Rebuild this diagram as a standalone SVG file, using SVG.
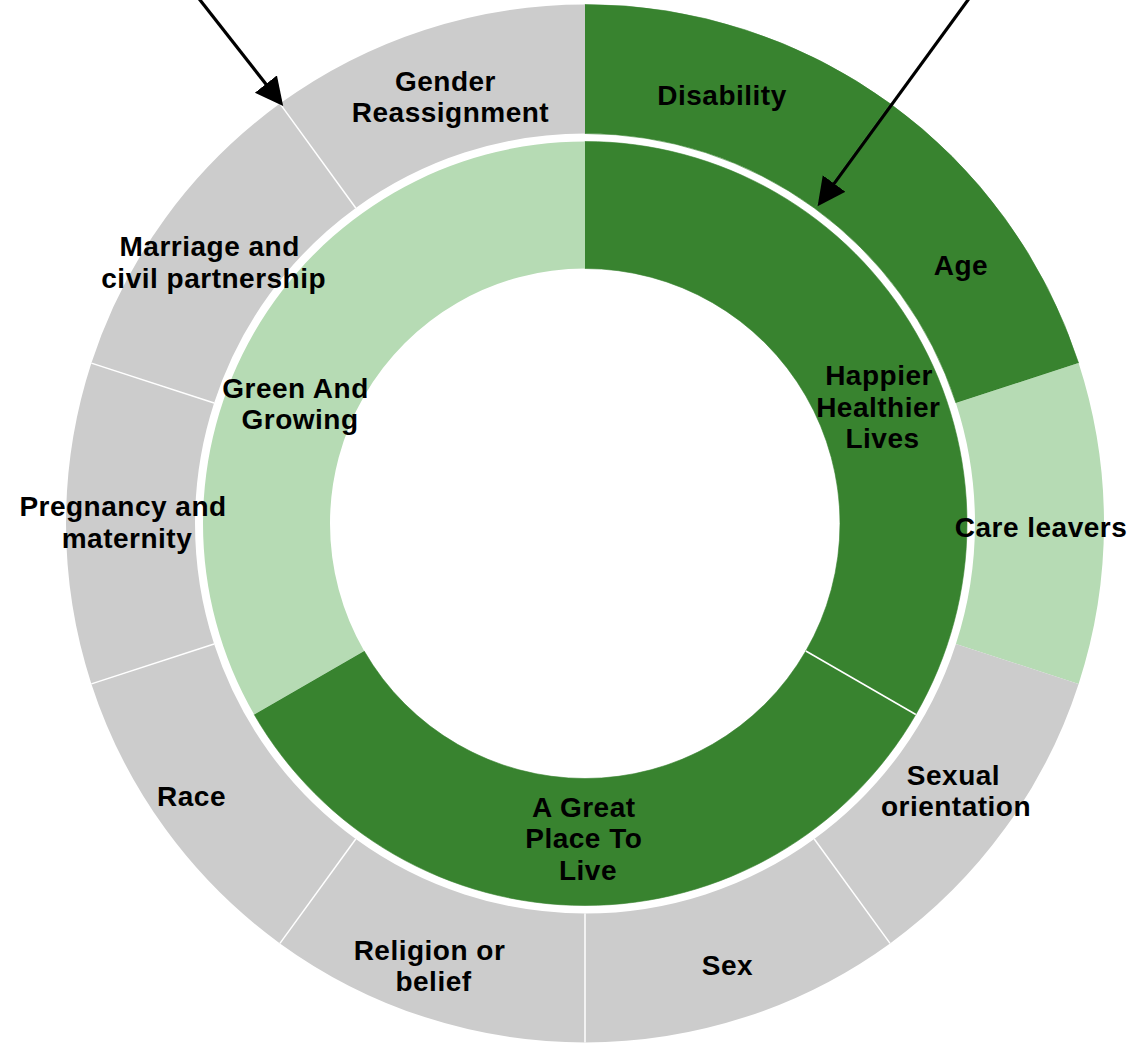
<svg xmlns="http://www.w3.org/2000/svg" width="1131" height="1044" viewBox="0 0 1131 1044">
<style>
.lbl { font-family: "Liberation Sans", Arial, sans-serif; font-weight: bold; font-size: 28px; letter-spacing: 0.5px; fill: #000; text-anchor: middle; }
.dk { fill: #38832f; stroke: #38832f; stroke-width: 0.6; }
.lt { fill: #b6dbb4; }
.gr { fill: #cccccc; }
.sep { stroke: #ffffff; stroke-width: 1.5; fill: none; }
.arrow { stroke: #000; stroke-width: 3.2; fill: none; marker-end: url(#ah); }
</style>
<defs>
<marker id="ah" markerUnits="userSpaceOnUse" markerWidth="32" markerHeight="32" viewBox="0 0 32 32" refX="18" refY="14" orient="auto">
<path d="M0,0 L28,14 L0,28 Z" fill="#000"/>
</marker>
</defs>
<rect width="1131" height="1044" fill="#ffffff"/>

<g id="happier-healthier-lives">
<path class="dk" d="M585,141.5 A382,382 0 0 1 915.82,714.5 L805.84,651 A255,255 0 0 0 585,268.5 Z"/>
<text class="lbl"><tspan x="879" y="385">Happier</tspan><tspan x="878.3" y="416.7">Healthier</tspan><tspan x="882.5" y="448.3">Lives</tspan></text>
</g>
<g id="a-great-place-to-live">
<path class="dk" d="M915.82,714.5 A382,382 0 0 1 254.18,714.5 L364.16,651 A255,255 0 0 0 805.84,651 Z"/>
<text class="lbl"><tspan x="583.8" y="816.7">A Great</tspan><tspan x="583.8" y="848.3">Place To</tspan><tspan x="588" y="880">Live</tspan></text>
</g>
<g id="green-and-growing">
<path class="lt" d="M254.18,714.5 A382,382 0 0 1 585,141.5 L585,268.5 A255,255 0 0 0 364.16,651 Z"/>
<text class="lbl"><tspan x="295.5" y="397.7">Green And</tspan><tspan x="300" y="429">Growing</tspan></text>
</g>

<g id="disability">
<path class="dk" d="M585,4.5 A519,519 0 0 1 890.06,103.62 L814.24,207.98 A390,390 0 0 0 585,133.5 Z"/>
<text class="lbl" x="722" y="105">Disability</text>
</g>
<g id="age">
<path class="dk" d="M890.06,103.62 A519,519 0 0 1 1078.6,363.12 L955.91,402.98 A390,390 0 0 0 814.24,207.98 Z"/>
<text class="lbl" x="961" y="275">Age</text>
</g>
<g id="care-leavers">
<path class="lt" d="M1078.6,363.12 A519,519 0 0 1 1078.6,683.88 L955.91,644.02 A390,390 0 0 0 955.91,402.98 Z"/>
<text class="lbl" x="1041" y="537">Care leavers</text>
</g>
<g id="sexual-orientation">
<path class="gr" d="M1078.6,683.88 A519,519 0 0 1 890.06,943.38 L814.24,839.02 A390,390 0 0 0 955.91,644.02 Z"/>
<text class="lbl"><tspan x="953.5" y="784.5">Sexual</tspan><tspan x="956" y="816">orientation</tspan></text>
</g>
<g id="sex">
<path class="gr" d="M890.06,943.38 A519,519 0 0 1 585,1042.5 L585,913.5 A390,390 0 0 0 814.24,839.02 Z"/>
<text class="lbl" x="727.5" y="974.5">Sex</text>
</g>
<g id="religion-or-belief">
<path class="gr" d="M585,1042.5 A519,519 0 0 1 279.94,943.38 L355.76,839.02 A390,390 0 0 0 585,913.5 Z"/>
<text class="lbl"><tspan x="429.5" y="959.5">Religion or</tspan><tspan x="433.5" y="991">belief</tspan></text>
</g>
<g id="race">
<path class="gr" d="M279.94,943.38 A519,519 0 0 1 91.4,683.88 L214.09,644.02 A390,390 0 0 0 355.76,839.02 Z"/>
<text class="lbl" x="191.5" y="805.5">Race</text>
</g>
<g id="pregnancy-and-maternity">
<path class="gr" d="M91.4,683.88 A519,519 0 0 1 91.4,363.12 L214.09,402.98 A390,390 0 0 0 214.09,644.02 Z"/>
<text class="lbl"><tspan x="123" y="516">Pregnancy and</tspan><tspan x="127" y="547.5">maternity</tspan></text>
</g>
<g id="marriage-and-civil-partnership">
<path class="gr" d="M91.4,363.12 A519,519 0 0 1 279.94,103.62 L355.76,207.98 A390,390 0 0 0 214.09,402.98 Z"/>
<text class="lbl"><tspan x="209.7" y="255.7">Marriage and</tspan><tspan x="213.7" y="287.7">civil partnership</tspan></text>
</g>
<g id="gender-reassignment">
<path class="gr" d="M279.94,103.62 A519,519 0 0 1 585,4.5 L585,133.5 A390,390 0 0 0 355.76,207.98 Z"/>
<text class="lbl"><tspan x="445.5" y="90.7">Gender</tspan><tspan x="450.5" y="121.7">Reassignment</tspan></text>
</g>

<g id="connectors">
<line class="sep" x1="814.24" y1="839.02" x2="890.06" y2="943.38"/>
<line class="sep" x1="585" y1="913.5" x2="585" y2="1042.5"/>
<line class="sep" x1="355.76" y1="839.02" x2="279.94" y2="943.38"/>
<line class="sep" x1="214.09" y1="644.02" x2="91.4" y2="683.88"/>
<line class="sep" x1="214.09" y1="402.98" x2="91.4" y2="363.12"/>
<line class="sep" x1="355.76" y1="207.98" x2="279.94" y2="103.62"/>
<line class="sep" x1="805.84" y1="651" x2="915.82" y2="714.5"/>
<path class="arrow" d="M196.1,-5 L277.0,98.2"/>
<path class="arrow" d="M971.6,-5 L823.5,198.1"/>
</g>
</svg>
